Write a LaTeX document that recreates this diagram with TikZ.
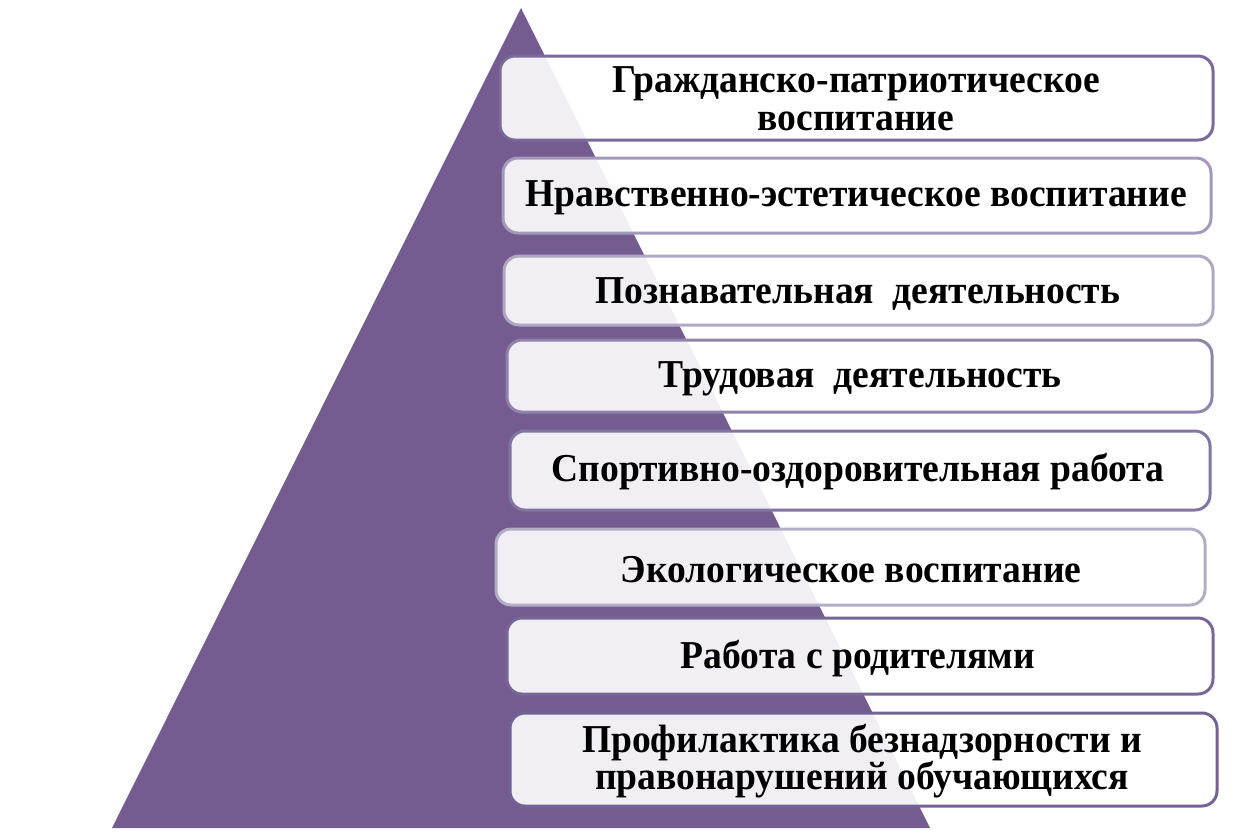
\documentclass[tikz,border=0pt]{standalone}
\usepackage{fontspec}
\setmainfont[FakeStretch=0.95]{Liberation Serif}

\definecolor{pyramid}{RGB}{116,92,145}
\definecolor{edgeA}{RGB}{122,106,156}
\definecolor{edgeB}{RGB}{164,153,186}
\definecolor{edgeC}{RGB}{176,167,195}
\definecolor{edgeD}{RGB}{143,131,171}
\definecolor{edgeE}{RGB}{130,117,162}
\definecolor{edgeF}{RGB}{179,173,198}
\definecolor{edgeG}{RGB}{119,103,149}
\definecolor{edgeH}{RGB}{115,99,148}

\tikzset{
  levelbox/.style={line width=1.7pt, rounded corners=0.3cm, fill=white, fill opacity=0.9},
  leveltext/.style={align=center, font=\fontsize{22.5}{21.5}\selectfont\bfseries, text=black}
}

\begin{document}
\begin{tikzpicture}[x=0.02cm,y=-0.02cm]

        \useasboundingbox (0,0) rectangle (1254,833);

        %Pyramid
        \fill [pyramid] (521,8) -- (930,828) -- (112,828) -- cycle;

        %Civic
        \draw [levelbox, draw=edgeA] (500,56) rectangle (1213,140);
        \node [leveltext] (civic) at (856,99) {Гражданско-патриотическое\\воспитание};

        %Moral
        \draw [levelbox, draw=edgeB] (503,158) rectangle (1211,233);
        \node [leveltext] (moral) at (856,198) {Нравственно-эстетическое воспитание};

        %Cognitive
        \draw [levelbox, draw=edgeC] (504,256) rectangle (1213,325);
        \node [leveltext] (cognitive) at (858,294) {Познавательная\ \ деятельность};

        %Labour
        \draw [levelbox, draw=edgeD] (507,340) rectangle (1212,412);
        \node [leveltext] (labour) at (860,379) {Трудовая\ \ деятельность};

        %Sport
        \draw [levelbox, draw=edgeE] (510,431) rectangle (1210,510);
        \node [leveltext] (sport) at (858,472) {Спортивно-оздоровительная работа};

        %Ecology
        \draw [levelbox, draw=edgeF] (496,529) rectangle (1205,605);
        \node [leveltext] (ecology) at (851,570) {Экологическое воспитание};

        %Parents
        \draw [levelbox, draw=edgeG] (507,618) rectangle (1213,694);
        \node [leveltext] (parents) at (858,659) {Работа с родителями};

        %Prevention
        \draw [levelbox, draw=edgeH] (510,713) rectangle (1217,806);
        \node [leveltext] (prevention) at (862,761) {Профилактика безнадзорности и\\правонарушений обучающихся};

      \end{tikzpicture}
\end{document}
